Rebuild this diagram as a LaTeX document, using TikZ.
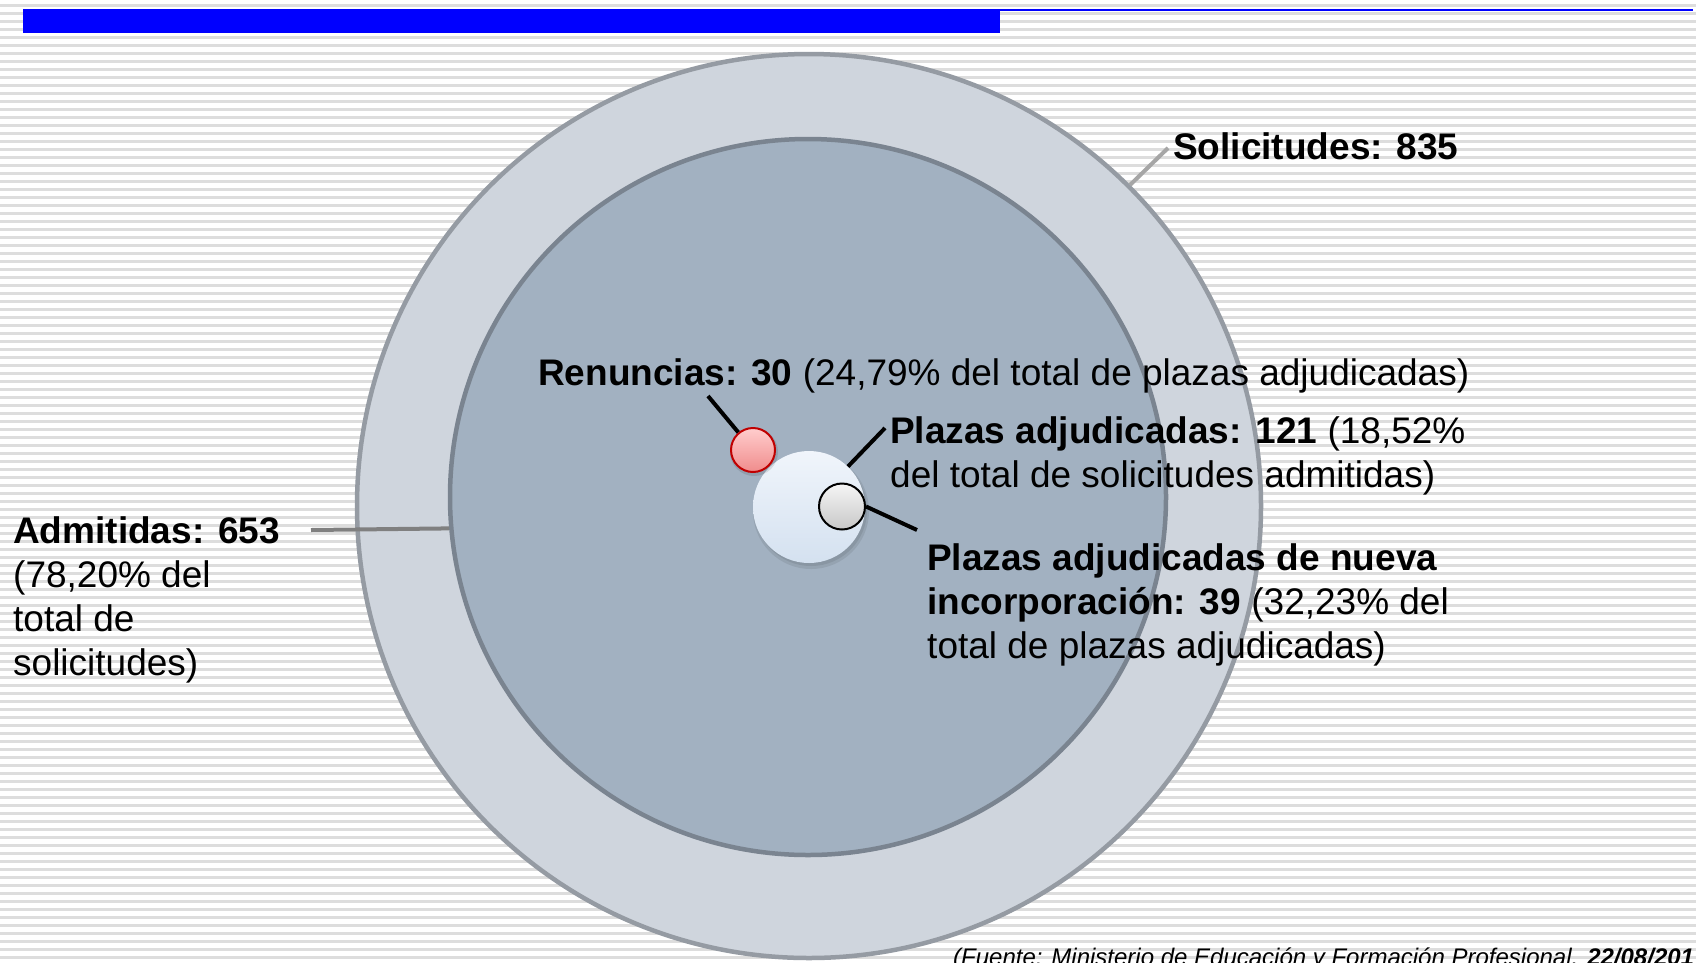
\documentclass[tikz,border=0pt]{standalone}
\usepackage{fontspec}
\setmainfont{Liberation Sans}
\definecolor{stripe}{HTML}{DDDDDD}
\definecolor{barblue}{HTML}{0000FF}
\definecolor{outerfill}{HTML}{CFD5DD}
\definecolor{outerline}{HTML}{959BA3}
\definecolor{innerfill}{HTML}{A2B1C1}
\definecolor{innerline}{HTML}{7A8490}
\definecolor{admline}{HTML}{808080}
\definecolor{solline}{HTML}{A6A6A6}
\definecolor{redline}{HTML}{C00000}
\begin{document}
\begin{tikzpicture}[x=1pt,y=-1pt,
  lbl/.style={anchor=base west, inner sep=0pt, align=left, font=\fontsize{37}{44}\selectfont},
  conn/.style={draw=black, line width=4pt},
  ring/.style={circle, inner sep=0pt, line width=4.5pt}]
\useasboundingbox (0,0) rectangle (1696,962);
\clip (0,0) rectangle (1696,962);
\fill[white] (0,0) rectangle (1696,962);
\foreach \k in {0,...,120} \fill[stripe] (0,4+8*\k) rectangle (1696,7+8*\k);
% title bar
\fill[barblue] (23,9) rectangle (1000,33);
\fill[barblue] (1000,9) rectangle (1693,11);
% circles
\node[ring, draw=outerline, fill=outerfill, minimum size=904pt] (sol) at (809,506) {};
\node[ring, draw=innerline, fill=innerfill, minimum size=716pt] (adm) at (808,497) {};
% shadows
\fill[black, opacity=0.08] (811,511) circle (58);
\fill[black, opacity=0.08] (811,510) circle (56);
\node[circle, inner sep=0pt, minimum size=112pt, top color={rgb,255:red,240;green,245;blue,251}, bottom color={rgb,255:red,212;green,225;blue,240}] (plz) at (809,507) {};
\fill[black, opacity=0.10] (754,452) circle (24);
\node[circle, inner sep=0pt, minimum size=44pt, draw=redline, line width=2pt, top color={rgb,255:red,255;green,205;blue,205}, bottom color={rgb,255:red,240;green,140;blue,140}] (ren) at (753,450) {};
\node[circle, inner sep=0pt, minimum size=46pt, draw=black, line width=2pt, top color={rgb,255:red,245;green,245;blue,245}, bottom color={rgb,255:red,200;green,200;blue,200}] (nue) at (842,506.5) {};
% connectors
\coordinate (solL) at (1168,148);
\coordinate (admL) at (311,530);
\coordinate (renL) at (708,396);
\coordinate (plzL) at (885,428);
\coordinate (nueL) at (917,530);
\draw[draw=solline, line width=4pt] (sol.45.2) -- (solL);
\draw[draw=admline, line width=4pt] (admL) -- (adm.185.3);
\draw[conn] (renL) -- (ren);
\draw[conn] (plz) -- (plzL);
\draw[conn] (nue.east) -- (nueL);
% labels (base anchor = baseline of the last line)
\node[lbl] (tsol) at (1173,159) {\textbf{Solicitudes: 835}};
\node[lbl] (tadm) at (13,675) {\textbf{Admitidas: 653}\\(78,20\% del\\total de\\solicitudes)};
\node[lbl] (tren) at (538,385) {\textbf{Renuncias: 30} (24,79\% del total de plazas adjudicadas)};
\node[lbl] (tplz) at (890,487) {\textbf{Plazas adjudicadas: 121} (18,52\%\\del total de solicitudes admitidas)};
\node[lbl] (tnue) at (927,658) {\textbf{Plazas adjudicadas de nueva}\\\textbf{incorporación: 39} (32,23\% del\\total de plazas adjudicadas)};
\node[anchor=base west, inner sep=0pt, font=\fontsize{24}{28}\selectfont\itshape] (tfue) at (953,965) {(Fuente: Ministerio de Educación y Formación Profesional. \textbf{22/08/201}};
\end{tikzpicture}
\end{document}
